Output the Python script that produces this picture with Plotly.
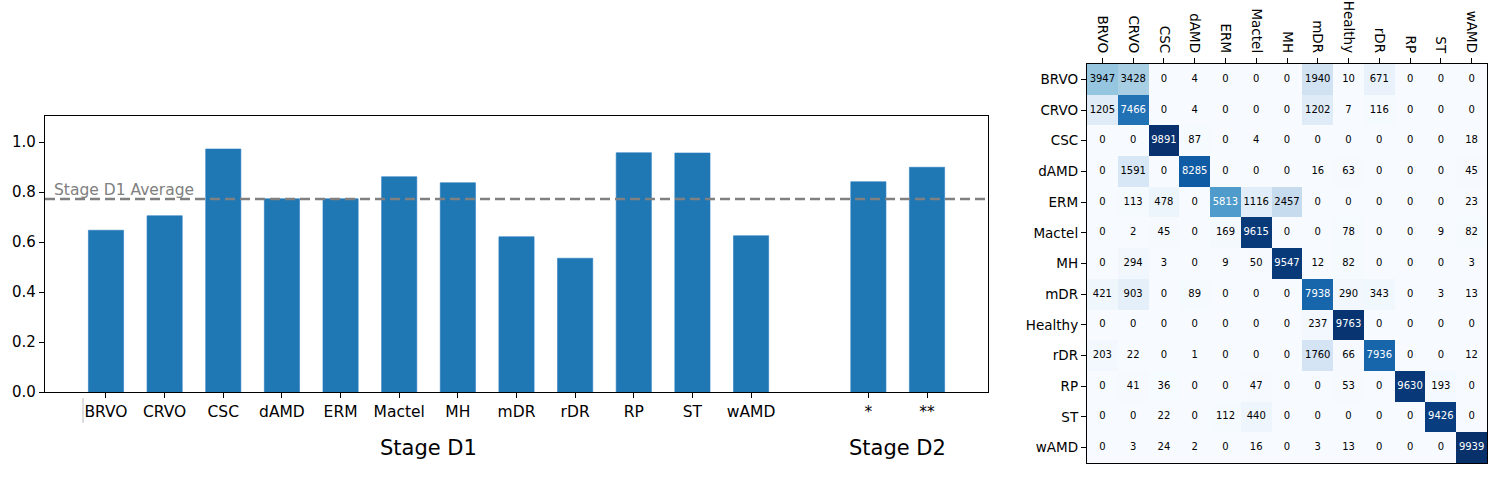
import numpy as np
import plotly.graph_objects as go

# ---------------- data ----------------
d1_labels = ["BRVO", "CRVO", "CSC", "dAMD", "ERM", "Mactel", "MH", "mDR", "rDR", "RP", "ST", "wAMD"]
d1_values = [0.647, 0.705, 0.972, 0.773, 0.773, 0.861, 0.837, 0.621, 0.535, 0.957, 0.956, 0.625]
d2_labels = ["*", "**"]
d2_values = [0.841, 0.899]
group_labels = ["Stage D1", "Stage D2"]
avg_label = "Stage D1 Average"

cm_cols = ["BRVO", "CRVO", "CSC", "dAMD", "ERM", "Mactel", "MH", "mDR", "Healthy", "rDR", "RP", "ST", "wAMD"]
cm_rows = ["BRVO", "CRVO", "CSC", "dAMD", "ERM", "Mactel", "MH", "mDR", "Healthy", "rDR", "RP", "ST", "wAMD"]
cm_BRVO = [3947, 3428, 0, 4, 0, 0, 0, 1940, 10, 671, 0, 0, 0]
cm_CRVO = [1205, 7466, 0, 4, 0, 0, 0, 1202, 7, 116, 0, 0, 0]
cm_CSC = [0, 0, 9891, 87, 0, 4, 0, 0, 0, 0, 0, 0, 18]
cm_dAMD = [0, 1591, 0, 8285, 0, 0, 0, 16, 63, 0, 0, 0, 45]
cm_ERM = [0, 113, 478, 0, 5813, 1116, 2457, 0, 0, 0, 0, 0, 23]
cm_Mactel = [0, 2, 45, 0, 169, 9615, 0, 0, 78, 0, 0, 9, 82]
cm_MH = [0, 294, 3, 0, 9, 50, 9547, 12, 82, 0, 0, 0, 3]
cm_mDR = [421, 903, 0, 89, 0, 0, 0, 7938, 290, 343, 0, 3, 13]
cm_Healthy = [0, 0, 0, 0, 0, 0, 0, 237, 9763, 0, 0, 0, 0]
cm_rDR = [203, 22, 0, 1, 0, 0, 0, 1760, 66, 7936, 0, 0, 12]
cm_RP = [0, 41, 36, 0, 0, 47, 0, 0, 53, 0, 9630, 193, 0]
cm_ST = [0, 0, 22, 0, 112, 440, 0, 0, 0, 0, 0, 9426, 0]
cm_wAMD = [0, 3, 24, 2, 0, 16, 0, 3, 13, 0, 0, 0, 9939]

# ---------------- build ----------------
FONT = "DejaVu Sans"
BAR_COLOR = "#1f77b4"
blues = ["#f7fbff", "#deebf7", "#c6dbef", "#9ecae1", "#6baed6",
         "#4292c6", "#2171b5", "#08519c", "#08306b"]
colorscale = [[i / (len(blues) - 1), c] for i, c in enumerate(blues)]

d1_x = list(range(len(d1_labels)))
d2_x = [len(d1_labels) + 1 + i for i in range(len(d2_labels))]
avg = float(np.mean(d1_values))

cm = np.array([cm_BRVO, cm_CRVO, cm_CSC, cm_dAMD, cm_ERM, cm_Mactel, cm_MH,
               cm_mDR, cm_Healthy, cm_rDR, cm_RP, cm_ST, cm_wAMD])
vmax = cm.max()

fig = go.Figure()

fig.add_trace(go.Bar(
    x=d1_x + d2_x, y=d1_values + d2_values, width=0.6,
    marker=dict(color=BAR_COLOR, line=dict(color="#2a7bbf", width=0.6)),
    xaxis="x", yaxis="y", showlegend=False,
))

fig.add_trace(go.Heatmap(
    z=cm, x=list(range(len(cm_cols))), y=list(range(len(cm_rows))),
    colorscale=colorscale, zmin=0, zmax=vmax, showscale=False,
    xaxis="x2", yaxis="y2", hoverinfo="skip",
))

tx, ty, tt, tc = [], [], [], []
for i in range(len(cm_rows)):
    for j in range(len(cm_cols)):
        v = int(cm[i, j])
        tx.append(j); ty.append(i); tt.append(str(v))
        tc.append("white" if v > vmax / 2 else "black")
fig.add_trace(go.Scatter(
    x=tx, y=ty, text=tt, mode="text",
    textfont=dict(family=FONT, size=10, color=tc),
    xaxis="x2", yaxis="y2", showlegend=False, hoverinfo="skip",
))

# average line
fig.add_shape(type="line", xref="x domain", yref="y", x0=0, x1=1, y0=avg, y1=avg,
              line=dict(color="#808080", width=2.5, dash="10px,5px"))
fig.add_annotation(xref="x domain", yref="y", x=0.007, y=avg, text=avg_label,
                   showarrow=False, xanchor="left", yanchor="bottom", yshift=-2,
                   font=dict(family=FONT, size=15.5, color="#808080"))

# small separator tick left of first label
fig.add_shape(type="line", xref="paper", yref="paper", x0=83 / 1500, x1=83 / 1500,
              y0=1 - 423 / 477, y1=1 - 398 / 477, line=dict(color="#bbbbbb", width=1))

# group labels
group_centers = [np.mean(d1_x), np.mean(d2_x)]
for lab, cx in zip(group_labels, group_centers):
    fig.add_annotation(xref="x", yref="paper", x=cx, y=1 - 448 / 477, text=lab,
                       showarrow=False, xanchor="center", yanchor="middle",
                       font=dict(family=FONT, size=21, color="black"))

axis_common = dict(showline=True, linecolor="black", linewidth=1.3, mirror=True,
                   ticks="outside", ticklen=5, tickwidth=1, tickcolor="black",
                   showgrid=False, zeroline=False, automargin=False)

fig.update_layout(
    width=1500, height=477,
    margin=dict(l=0, r=0, t=0, b=0, autoexpand=False),
    paper_bgcolor="white", plot_bgcolor="white",
    font=dict(family=FONT, color="black"),
    xaxis=dict(domain=[45 / 1500, 988 / 1500], range=[-1.04, 15.04],
               tickvals=d1_x + d2_x, ticktext=d1_labels + d2_labels,
               tickfont=dict(size=15.5), **axis_common),
    yaxis=dict(domain=[1 - 392 / 477, 1 - 116 / 477], range=[0, 1.104],
               tickvals=[0, 0.2, 0.4, 0.6, 0.8, 1.0], tickformat=".1f",
               tickfont=dict(size=15), **axis_common),
    xaxis2=dict(domain=[1087 / 1500, 1487 / 1500], range=[-0.5, len(cm_cols) - 0.5],
                side="top", tickvals=list(range(len(cm_cols))), ticktext=cm_cols,
                tickangle=90, tickfont=dict(size=13.5), anchor="y2", **axis_common),
    yaxis2=dict(domain=[1 - 463 / 477, 1 - 64 / 477], range=[len(cm_rows) - 0.5, -0.5],
                tickvals=list(range(len(cm_rows))), ticktext=cm_rows,
                tickfont=dict(size=13.5), anchor="x2", **axis_common),
)

fig.write_html("out.html", config={"displayModeBar": False},
               post_script="document.body.style.margin='0';document.body.style.overflow='hidden';")
